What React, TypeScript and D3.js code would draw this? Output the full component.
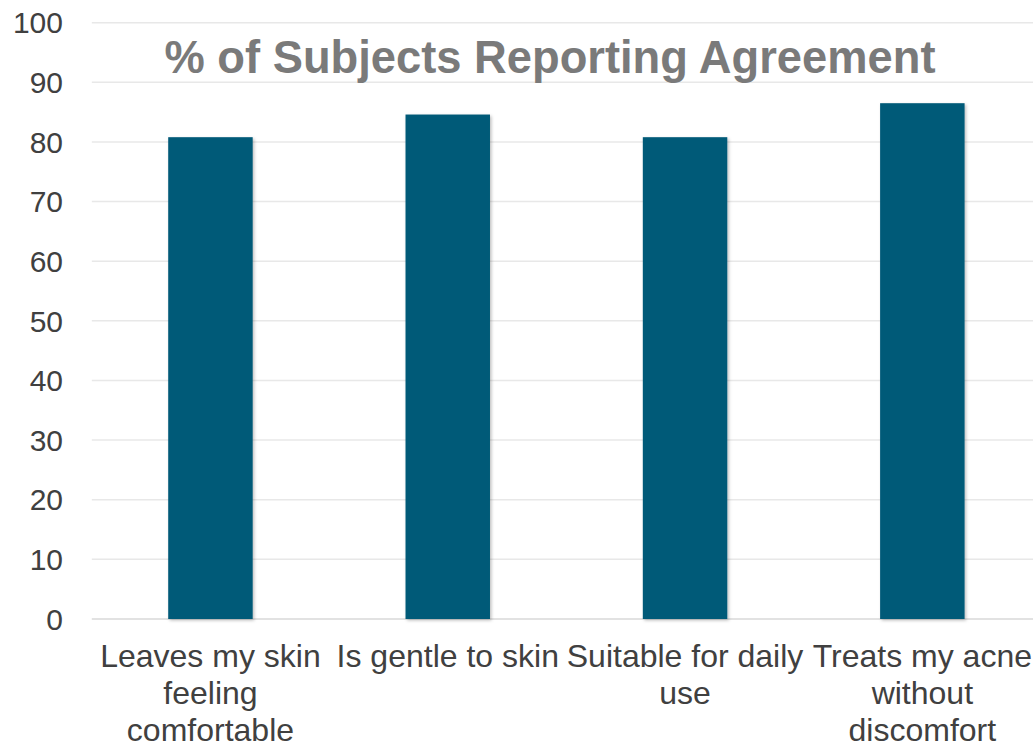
import React from "react";
import * as d3 from "d3";

const categories: string[] = [
  "Leaves my skin feeling comfortable",
  "Is gentle to skin",
  "Suitable for daily use",
  "Treats my acne without discomfort",
];
const values: number[] = [80.8, 84.6, 80.8, 86.5];
const yTicks: number[] = [0, 10, 20, 30, 40, 50, 60, 70, 80, 90, 100];
const title = "% of Subjects Reporting Agreement";

const W = 1033;
const H = 745;
const FONT = "Liberation Sans, Arial, sans-serif";

function wrap(text: string, maxW: number, font: string): string[] {
  const c = document.createElement("canvas").getContext("2d")!;
  c.font = font;
  const words = text.split(" ");
  const lines: string[] = [];
  let cur = "";
  for (const w of words) {
    const t = cur ? cur + " " + w : w;
    if (c.measureText(t).width > maxW && cur) {
      lines.push(cur);
      cur = w;
    } else cur = t;
  }
  if (cur) lines.push(cur);
  return lines;
}

export default function App() {
  const left = 91.8;
  const right = 1041;
  const top = 22.7;
  const bottom = 619;
  const x = d3.scaleBand<string>().domain(categories).range([left, right]).paddingInner(0.644).paddingOuter(0.322);
  const y = d3.scaleLinear().domain([0, 100]).range([bottom, top]);
  const step = x.step();
  const labelSize = 32;
  const labelFont = `${labelSize}px ${FONT}`;

  return (
    <svg width={W} height={H} style={{ position: "absolute", left: 0, top: 0, background: "#fff" }}>
      <defs>
        <filter id="sh" x="-20%" y="-5%" width="140%" height="110%">
          <feDropShadow dx="1.5" dy="1.5" stdDeviation="1.5" floodColor="#000" floodOpacity="0.25" />
        </filter>
      </defs>
      {yTicks.map((t) => (
        <line key={t} x1={left} x2={W} y1={y(t)} y2={y(t)} stroke={t === 0 ? "#d9d9d9" : "#e8e8e8"} strokeWidth={1.5} />
      ))}
      {yTicks.map((t) => (
        <text key={"l" + t} x={63} y={y(t) + 10.7} textAnchor="end" fontFamily={FONT} fontSize={30} fill="#404040">
          {t}
        </text>
      ))}
      {categories.map((c, i) => (
        <rect
          key={c}
          x={x(c)}
          y={y(values[i])}
          width={x.bandwidth()}
          height={y(0) - y(values[i])}
          fill="#035a78"
          filter="url(#sh)"
        />
      ))}
      {categories.map((c) => {
        const lines = wrap(c, step + 6, labelFont);
        const cx = (x(c) as number) + x.bandwidth() / 2;
        return (
          <text key={"x" + c} textAnchor="middle" fontFamily={FONT} fontSize={labelSize} fill="#404040">
            {lines.map((ln, j) => (
              <tspan key={j} x={cx} y={666.5 + j * 37}>
                {ln}
              </tspan>
            ))}
          </text>
        );
      })}
      <text x={550} y={73} textAnchor="middle" fontFamily={FONT} fontSize={45.3} fontWeight="bold" fill="#7a7a7a">
        {title}
      </text>
    </svg>
  );
}
